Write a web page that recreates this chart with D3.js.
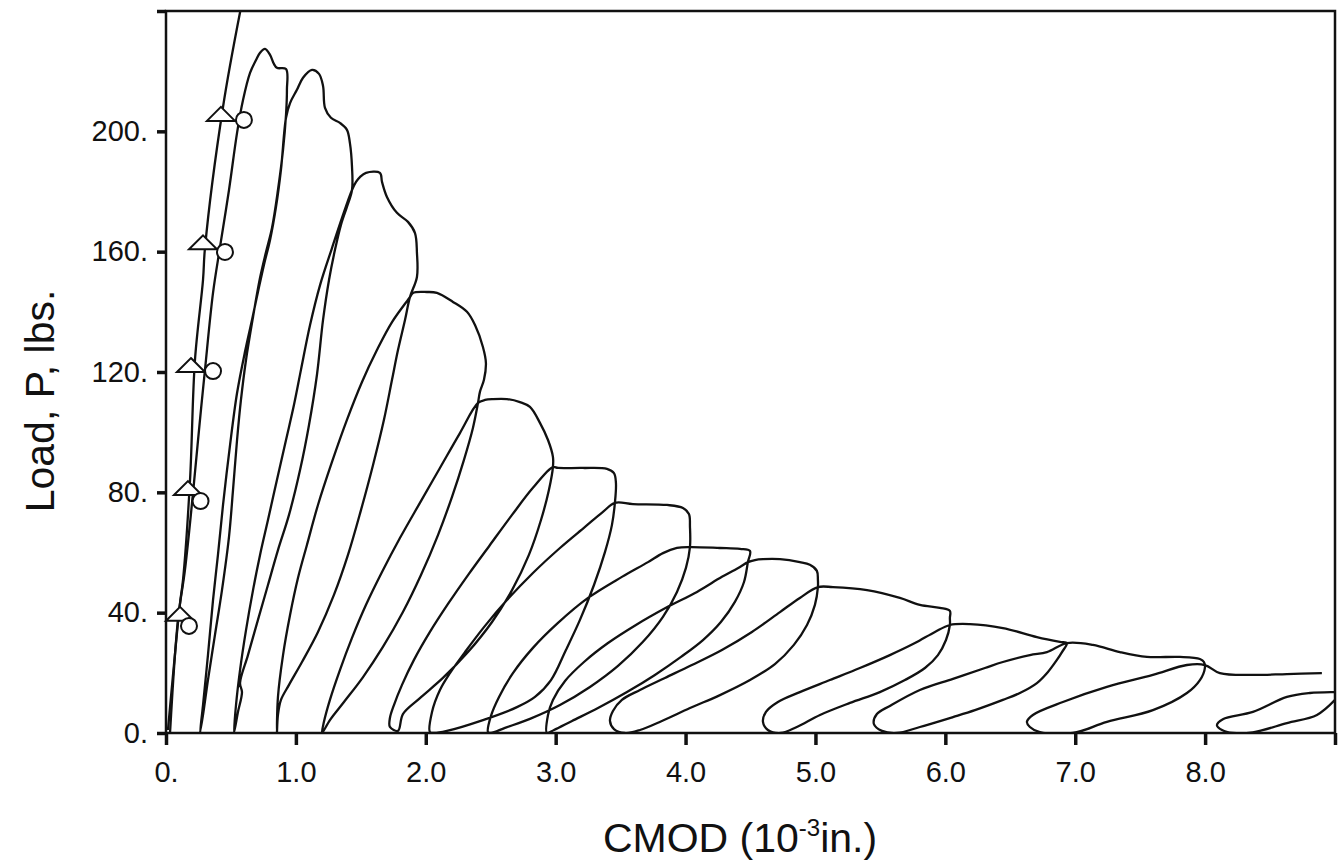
<!DOCTYPE html>
<html>
<head>
<meta charset="utf-8">
<script src="https://cdn.jsdelivr.net/npm/d3@7"></script>
<style>
  body { margin: 0; background: #fff; }
  svg { display: block; }
  .curve { fill: none; stroke: #111; stroke-width: 2.3; stroke-linejoin: round; }
  .tick text { font-family: "Liberation Sans", Arial, sans-serif; fill: #111; }
  .title { font-family: "Liberation Sans", Arial, sans-serif; fill: #111; }
</style>
</head>
<body>
<svg id="chart"></svg>
<script>
// CMOD (1e-3 in.) vs load (lbs), one continuous record: loading, unload, reload ...
var loadCurve = [
  [0.031,0],[0.092,37.6],[0.146,54.2],[0.208,79.8],[0.254,100.7],[0.300,120.7],[0.362,146.3],[0.416,161.6],[0.485,180.5],[0.547,199.5],[0.593,210.4],[0.647,219.4],[0.693,223.7],[0.724,226.1],[0.762,227.4],[0.801,225.4],[0.831,222.4],[0.854,221.1],[0.924,220.7],
  [0.931,213.8],[0.924,205.5],[0.901,193.8],[0.862,180.5],[0.816,167.9],[0.770,159.9],[0.724,151.3],[0.670,138.3],[0.616,124.0],[0.577,110.7],[0.547,97.4],[0.516,80.8],[0.485,65.2],[0.431,47.5],[0.377,32.6],[0.323,17.6],[0.285,6.0],[0.262,0],
  [0.285,9.3],[0.323,25.9],[0.362,44.2],[0.400,59.2],[0.439,75.8],[0.493,95.7],[0.547,113.0],[0.608,126.7],[0.662,137.3],[0.708,146.6],[0.754,155.6],[0.801,163.9],[0.847,174.9],[0.885,187.2],[0.924,204.5],
  [0.955,209.4],[1.008,213.8],[1.055,217.8],[1.124,220.4],[1.178,219.1],[1.209,215.1],[1.224,207.8],[1.270,204.5],[1.339,202.8],[1.393,200.5],[1.416,196.1],[1.432,188.2],
  [1.432,180.5],[1.393,174.9],[1.347,168.9],[1.301,160.6],[1.255,150.6],[1.209,137.3],[1.162,119.0],[1.101,102.4],[1.032,87.4],[0.947,72.5],[0.862,60.8],[0.785,49.2],[0.708,37.6],[0.631,25.9],[0.570,16.6],[0.585,13.6],[0.554,7.0],[0.523,0],
  [0.539,9.3],[0.570,20.9],[0.616,34.2],[0.670,47.5],[0.724,59.2],[0.785,70.8],[0.854,84.1],[0.924,97.4],[0.985,109.0],[1.039,120.7],[1.109,135.6],[1.186,148.9],[1.278,161.2],[1.355,171.2],[1.432,180.5],
  [1.463,183.2],[1.493,184.8],[1.540,186.2],[1.647,186.2],[1.663,183.2],[1.701,178.2],[1.778,172.9],[1.863,169.9],[1.917,166.2],[1.932,159.6],[1.932,151.6],
  [1.878,144.9],[1.840,137.3],[1.786,127.3],[1.740,117.4],[1.678,104.1],[1.594,89.1],[1.501,74.1],[1.401,59.2],[1.293,45.9],[1.170,33.6],[1.047,23.6],[0.947,16.0],[0.885,11.0],[0.862,6.0],[0.854,0],
  [0.862,12.0],[0.901,25.9],[0.955,39.2],[1.016,51.5],[1.085,62.5],[1.170,75.8],[1.278,90.1],[1.393,104.1],[1.509,116.7],[1.624,127.3],[1.740,136.6],[1.878,144.9],
  [1.901,146.3],[2.009,146.6],[2.086,146.3],[2.209,143.3],[2.317,140.0],[2.379,135.6],[2.440,128.3],[2.463,123.0],[2.448,117.4],[2.417,113.4],
  [2.402,109.7],[2.363,101.4],[2.294,90.8],[2.202,78.5],[2.094,65.8],[1.963,52.5],[1.824,40.2],[1.670,28.6],[1.517,18.6],[1.370,10.3],[1.262,4.3],[1.201,0],
  [1.216,3.7],[1.262,11.0],[1.339,20.9],[1.432,31.6],[1.540,42.6],[1.663,53.5],[1.801,64.8],[1.955,76.5],[2.109,88.1],[2.263,99.7],[2.402,109.7],
  [2.456,110.7],[2.517,111.0],[2.625,111.0],[2.725,110.0],[2.802,108.4],[2.879,103.1],[2.941,97.4],[2.979,91.8],
  [2.979,88.4],[2.948,80.8],[2.887,70.8],[2.794,59.2],[2.664,47.5],[2.510,36.9],[2.325,26.9],[2.132,18.3],[1.955,11.6],[1.824,6.3],[1.786,0.7],[1.724,2.0],
  [1.724,5.0],[1.755,9.3],[1.817,16.0],[1.909,24.3],[2.032,33.6],[2.171,42.9],[2.325,52.5],[2.494,62.5],[2.664,72.5],[2.825,81.5],[2.979,88.4],
  [3.018,88.1],[3.210,88.1],[3.395,87.8],[3.449,86.4],[3.464,83.1],
  [3.456,76.5],[3.433,69.1],[3.380,60.2],[3.295,49.2],[3.187,37.6],[3.079,27.6],[2.964,17.6],[2.841,12.0],[2.702,8.6],[2.440,4.3],[2.163,0.7],[2.063,0],
  [2.032,0.3],[2.048,7.0],[2.109,14.3],[2.186,19.9],[2.302,26.9],[2.448,35.2],[2.625,44.2],[2.825,53.2],[3.033,61.5],[3.226,68.5],[3.364,73.5],[3.456,76.5],
  [3.595,76.1],[3.857,75.8],[3.980,74.8],[4.026,72.8],[4.034,68.5],
  [4.034,61.8],[4.003,54.9],[3.934,46.9],[3.826,38.6],[3.672,30.3],[3.480,22.3],[3.264,15.3],[3.033,9.3],[2.802,4.7],[2.610,1.7],[2.502,0],
  [2.479,0.3],[2.502,5.7],[2.564,12.0],[2.671,19.9],[2.825,28.3],[3.018,36.6],[3.249,44.9],[3.510,51.9],[3.711,56.8],[3.826,59.8],[3.934,61.5],
  [4.034,61.8],[4.265,61.5],[4.419,61.2],[4.496,60.5],
  [4.480,56.8],[4.450,50.2],[4.380,43.6],[4.272,36.9],[4.134,30.9],[3.965,25.3],[3.764,19.3],[3.549,13.6],[3.326,8.3],[3.126,4.0],[2.987,1.0],[2.933,0],
  [2.941,6.0],[2.979,11.0],[3.072,17.3],[3.218,23.6],[3.403,29.9],[3.618,35.9],[3.849,41.6],[4.088,46.9],[4.280,51.9],[4.419,55.2],[4.480,56.8],
  [4.534,57.5],[4.596,57.8],[4.727,57.8],[4.880,56.8],[4.957,55.9],[5.011,53.9],[5.019,50.9],
  [5.019,48.5],[4.996,42.6],[4.935,35.9],[4.834,29.3],[4.688,22.9],[4.496,17.6],[4.265,12.6],[4.034,8.3],[3.818,4.0],[3.649,1.0],[3.533,0],[3.449,1.3],[3.418,4.0],
  [3.441,7.3],[3.510,11.0],[3.649,14.3],[3.841,18.3],[4.049,22.6],[4.280,27.6],[4.511,33.6],[4.727,40.2],[4.880,44.9],[5.019,48.5],
  [5.135,48.5],[5.397,47.5],[5.650,44.9],[5.804,42.6],[5.958,41.6],[6.035,40.6],[6.035,38.2],
  [6.035,35.9],[6.005,30.9],[5.943,25.9],[5.843,21.6],[5.689,17.6],[5.496,13.6],[5.266,10.0],[5.035,6.0],[4.857,2.0],[4.734,0],[4.634,1.0],[4.596,3.7],
  [4.619,7.0],[4.711,10.3],[4.880,13.6],[5.111,17.6],[5.342,21.6],[5.573,25.9],[5.766,29.9],[5.920,33.6],[6.035,35.9],
  [6.189,36.2],[6.443,34.9],[6.705,31.9],[6.882,30.3],[6.936,29.9],
  [6.898,26.9],[6.859,24.3],[6.790,20.3],[6.705,16.6],[6.574,13.3],[6.443,11.0],[6.228,7.6],[6.059,5.3],[5.804,2.0],[5.627,0],[5.512,0.7],[5.450,3.0],
  [5.473,6.3],[5.573,9.0],[5.804,14.3],[6.059,18.0],[6.305,21.6],[6.443,23.6],[6.651,25.9],[6.782,26.9],[6.936,29.9],
  [7.136,29.3],[7.344,26.9],[7.552,25.3],[7.806,25.3],[7.960,24.6],[7.991,23.6],
  [7.998,21.6],[7.960,17.6],[7.860,13.3],[7.598,7.6],[7.244,3.7],[6.982,0],[6.728,0.3],[6.651,2.0],
  [6.628,3.7],[6.674,6.0],[6.905,10.3],[7.244,15.3],[7.598,19.3],[7.860,22.6],[7.998,22.6],
  [8.114,19.9],[8.368,19.3],[8.630,19.6],[8.899,19.9]
];

// last cycle, runs out past the right edge
var lastLoop = [
  [9.0,11.0],[8.861,6.0],[8.630,3.3],[8.368,0.2],[8.214,0],[8.130,1.0],[8.091,2.6],[8.137,4.6],[8.368,7.0],[8.630,12.0],[8.807,13.3],[8.984,13.6],[9.0,13.6]
];

// initial compliance line
var lineA = [
  [0.015,1.0],[0.108,43.2],[0.131,50.9],[0.185,84.1],[0.223,124.0],[0.285,150.6],[0.300,161.2],[0.439,208.1],[0.572,240]
];

var triangles = [[0.108,39.6],[0.169,81.4],[0.192,122.3],[0.285,163.1],[0.423,205.8]];
var circles = [[0.177,35.6],[0.266,77.1],[0.362,120.3],[0.454,159.9],[0.600,203.8]];

var xTicks = [0,1,2,3,4,5,6,7,8,9];
var xTickLabels = ["0.","1.0","2.0","3.0","4.0","5.0","6.0","7.0","8.0",""];
var yTicks = [0,40,80,120,160,200,240];
var yTickLabels = ["0.","40.","80.","120.","160.","200.",""];

var width = 1344, height = 867;
var margin = {top: 11, right: 9, bottom: 134, left: 166};

var svg = d3.select("#chart").attr("width", width).attr("height", height);

var x = d3.scaleLinear().domain([0, 9]).range([margin.left, width - margin.right]);
var y = d3.scaleLinear().domain([0, 240]).range([height - margin.bottom, margin.top]);

svg.append("defs").append("clipPath").attr("id", "plot")
  .append("rect")
  .attr("x", x(0)).attr("y", y(240))
  .attr("width", x(9) - x(0)).attr("height", y(0) - y(240));

var line = d3.line()
  .x(function(d) { return x(d[0]); })
  .y(function(d) { return y(d[1]); })
  .curve(d3.curveCatmullRom.alpha(0.5));

var g = svg.append("g").attr("clip-path", "url(#plot)");

g.append("path").datum(loadCurve).attr("class", "curve").attr("d", line);
g.append("path").datum(lastLoop).attr("class", "curve").attr("d", line);
g.append("path").datum(lineA).attr("class", "curve").attr("d", line);

// markers
svg.selectAll(".tri")
  .data(triangles)
  .enter().append("path")
  .attr("class", "tri")
  .attr("d", "M0,-7L14,7L-14,7Z")
  .attr("transform", function(d) { return "translate(" + x(d[0]) + "," + y(d[1]) + ")"; })
  .attr("fill", "#fff").attr("stroke", "#111").attr("stroke-width", 2);

svg.selectAll(".circ")
  .data(circles)
  .enter().append("circle")
  .attr("class", "circ")
  .attr("cx", function(d) { return x(d[0]); })
  .attr("cy", function(d) { return y(d[1]); })
  .attr("r", 8)
  .attr("fill", "#fff").attr("stroke", "#111").attr("stroke-width", 2);

// axes
var xAxis = d3.axisBottom(x).tickValues(xTicks)
  .tickFormat(function(d, i) { return xTickLabels[i]; })
  .tickSize(12).tickPadding(16);
var yAxis = d3.axisLeft(y).tickValues(yTicks)
  .tickFormat(function(d, i) { return yTickLabels[i]; })
  .tickSize(9).tickPadding(9);

var gx = svg.append("g").attr("transform", "translate(0," + y(0) + ")").call(xAxis);
var gy = svg.append("g").attr("transform", "translate(" + x(0) + ",0)").call(yAxis);

[gx, gy].forEach(function(a) {
  a.select(".domain").remove();
  a.selectAll(".tick line").attr("stroke", "#111").attr("stroke-width", 3.5);
  a.selectAll(".tick text").style("font-size", "29px");
});

// frame
svg.append("rect")
  .attr("x", x(0)).attr("y", y(240))
  .attr("width", x(9) - x(0)).attr("height", y(0) - y(240))
  .attr("fill", "none").attr("stroke", "#111").attr("stroke-width", 2.5);

// titles
var xt = svg.append("text").attr("class", "title")
  .attr("x", 740).attr("y", 852)
  .attr("text-anchor", "middle")
  .style("font-size", "41px");
xt.append("tspan").text("CMOD (10");
xt.append("tspan").attr("dy", -16).style("font-size", "24px").text("-3");
xt.append("tspan").attr("dy", 16).text("in.)");

svg.append("text").attr("class", "title")
  .attr("transform", "translate(54,401) rotate(-90)")
  .attr("text-anchor", "middle")
  .style("font-size", "41px")
  .text("Load, P, lbs.");
</script>
</body>
</html>
